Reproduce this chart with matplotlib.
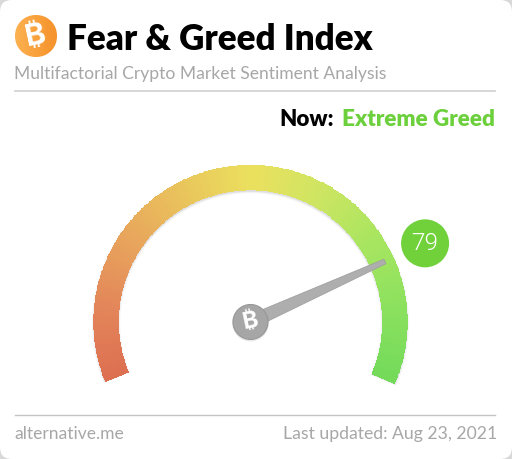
import numpy as np
import matplotlib
matplotlib.use("Agg")
import matplotlib.pyplot as plt
from matplotlib.colors import LinearSegmentedColormap
from matplotlib.patches import Circle, FancyBboxPatch, Polygon

title = "Fear & Greed Index"
subtitle = "Multifactorial Crypto Market Sentiment Analysis"
now_label = "Now:"
status_label = "Extreme Greed"
site_label = "alternative.me"
updated_label = "Last updated: Aug 23, 2021"
index_value = 79

# colours along the gauge, from value 0 to value 100
stop_values = [0, 12, 25, 38, 50, 62, 75, 88, 100]
stop_colors = ["#dc6f50", "#e3855a", "#e8a55c", "#e9c55c", "#ebe05e",
               "#cfe562", "#a8e560", "#8ae15e", "#74da5a"]

btc_fonts = ["Inter", "Noto Sans", "Roboto", "Open Sans", "Liberation Sans", "DejaVu Sans"]
plt.rcParams["font.family"] = ["Lato", "DejaVu Sans"]

fig = plt.figure(figsize=(5.12, 4.59), dpi=100, facecolor="#d9d9d9")
ax = fig.add_axes([0, 0, 1, 1])
ax.set_xlim(0, 512)
ax.set_ylim(459, 0)
ax.axis("off")

# card
ax.add_patch(FancyBboxPatch((8, 8), 496, 443, boxstyle="round,pad=8,rounding_size=12",
                            fc="white", ec="none", zorder=0))

# header
badge = Circle((36, 36), 21, fc="none", ec="none", zorder=2)
ax.add_patch(badge)
badge_cmap = LinearSegmentedColormap.from_list("badge", ["#fbb04f", "#f5922a"])
bx_edges = np.linspace(15, 57, 22)
mesh = ax.pcolormesh(bx_edges, [15, 57], np.linspace(0, 1, 21)[None, :], cmap=badge_cmap, zorder=2)
mesh.set_clip_path(badge)
ax.text(36, 36, "\u20bf", family=btc_fonts, fontsize=22.5, fontweight="bold", color="white",
        rotation=12, ha="center", va="center", zorder=3)
ax.text(67, 39, title, fontsize=25.2, fontweight="heavy", color="black", ha="left", va="center")
ax.text(14.5, 73.5, subtitle, fontsize=12.6, color="#a7a7a7", ha="left", va="center")
ax.plot([15, 495], [91, 91], color="#cfcfcf", lw=1.2)
ax.text(334, 120, now_label, fontsize=16, fontweight="heavy", color="black", ha="right", va="center")
ax.text(494.5, 120, status_label, fontsize=16.2, fontweight="heavy", color="#6cd03c", ha="right", va="center")

# footer
ax.plot([15, 495], [415, 415], color="#c4c4c4", lw=1.0)
ax.text(14.5, 434, site_label, fontsize=12.6, color="#a7a7a7", ha="left", va="center")
ax.text(497, 434, updated_label, fontsize=12.7, color="#a7a7a7", ha="right", va="center")

# gauge
cx, cy = 250.5, 322
r_in, r_out = 132.6, 156.2
start_deg, span_deg = 202, 225


def value_to_angle(v):
    return np.radians(start_deg - span_deg * np.asarray(v, dtype=float) / 100)


def polar_xy(v, r):
    a = value_to_angle(v)
    return cx + r * np.cos(a), cy - r * np.sin(a)


cmap = LinearSegmentedColormap.from_list(
    "gauge", [(v / 100, c) for v, c in zip(stop_values, stop_colors)])
vals = np.linspace(0, 100, 301)
radii = np.array([r_in, r_out])

# soft shadow under the band
for grow, alpha in [(2.5, 0.03), (1.5, 0.04), (0.8, 0.06)]:
    sx0, sy0 = polar_xy(vals, r_in - grow)
    sx1, sy1 = polar_xy(vals, r_out + grow)
    ax.add_patch(Polygon(np.r_[np.c_[sx0, sy0 + 1.5], np.c_[sx1, sy1 + 1.5][::-1]],
                         fc="black", ec="none", alpha=alpha, zorder=1))

grid_v, grid_r = np.meshgrid(vals, radii)
gx, gy = polar_xy(grid_v, grid_r)
mid = (vals[:-1] + vals[1:]) / 2
ax.pcolormesh(gx, gy, mid[None, :] / 100, cmap=cmap, vmin=0, vmax=1,
              shading="flat", edgecolors="face", linewidth=0.2, zorder=2)

# needle
a = value_to_angle(index_value)
dx, dy = np.cos(a), -np.sin(a)
nx, ny = -dy, dx
tip = 147.5
needle = [(cx + 12 * dx + 6.5 * nx, cy + 12 * dy + 6.5 * ny),
          (cx + 12 * dx - 6.5 * nx, cy + 12 * dy - 6.5 * ny),
          (cx + tip * dx - 2.5 * nx, cy + tip * dy - 2.5 * ny),
          (cx + tip * dx + 2.5 * nx, cy + tip * dy + 2.5 * ny)]
ax.add_patch(Polygon(needle, fc="#aeaeae", ec="#9c9c9c", lw=0.5, zorder=4))
ax.add_patch(Circle((cx, cy + 1), 18.5, fc="black", alpha=0.08, ec="none", zorder=4))
ax.add_patch(Circle((cx, cy), 17.5, fc="#a6a6a6", ec="#989898", lw=0.8, zorder=5))
ax.text(cx, cy, "\u20bf", family=btc_fonts, fontsize=17, fontweight="bold", color="white",
        rotation=12, ha="center", va="center", zorder=6)

# value bubble
bx, by = polar_xy(index_value, 191.5)
ax.add_patch(Circle((bx, by), 24, fc="#70d13a", ec="none", zorder=5))
ax.text(bx, by, str(index_value), family="Roboto", fontsize=17.5, fontweight=300, color="white",
        ha="center", va="center", zorder=6)

fig.savefig("out.png", dpi=100, facecolor=fig.get_facecolor())
